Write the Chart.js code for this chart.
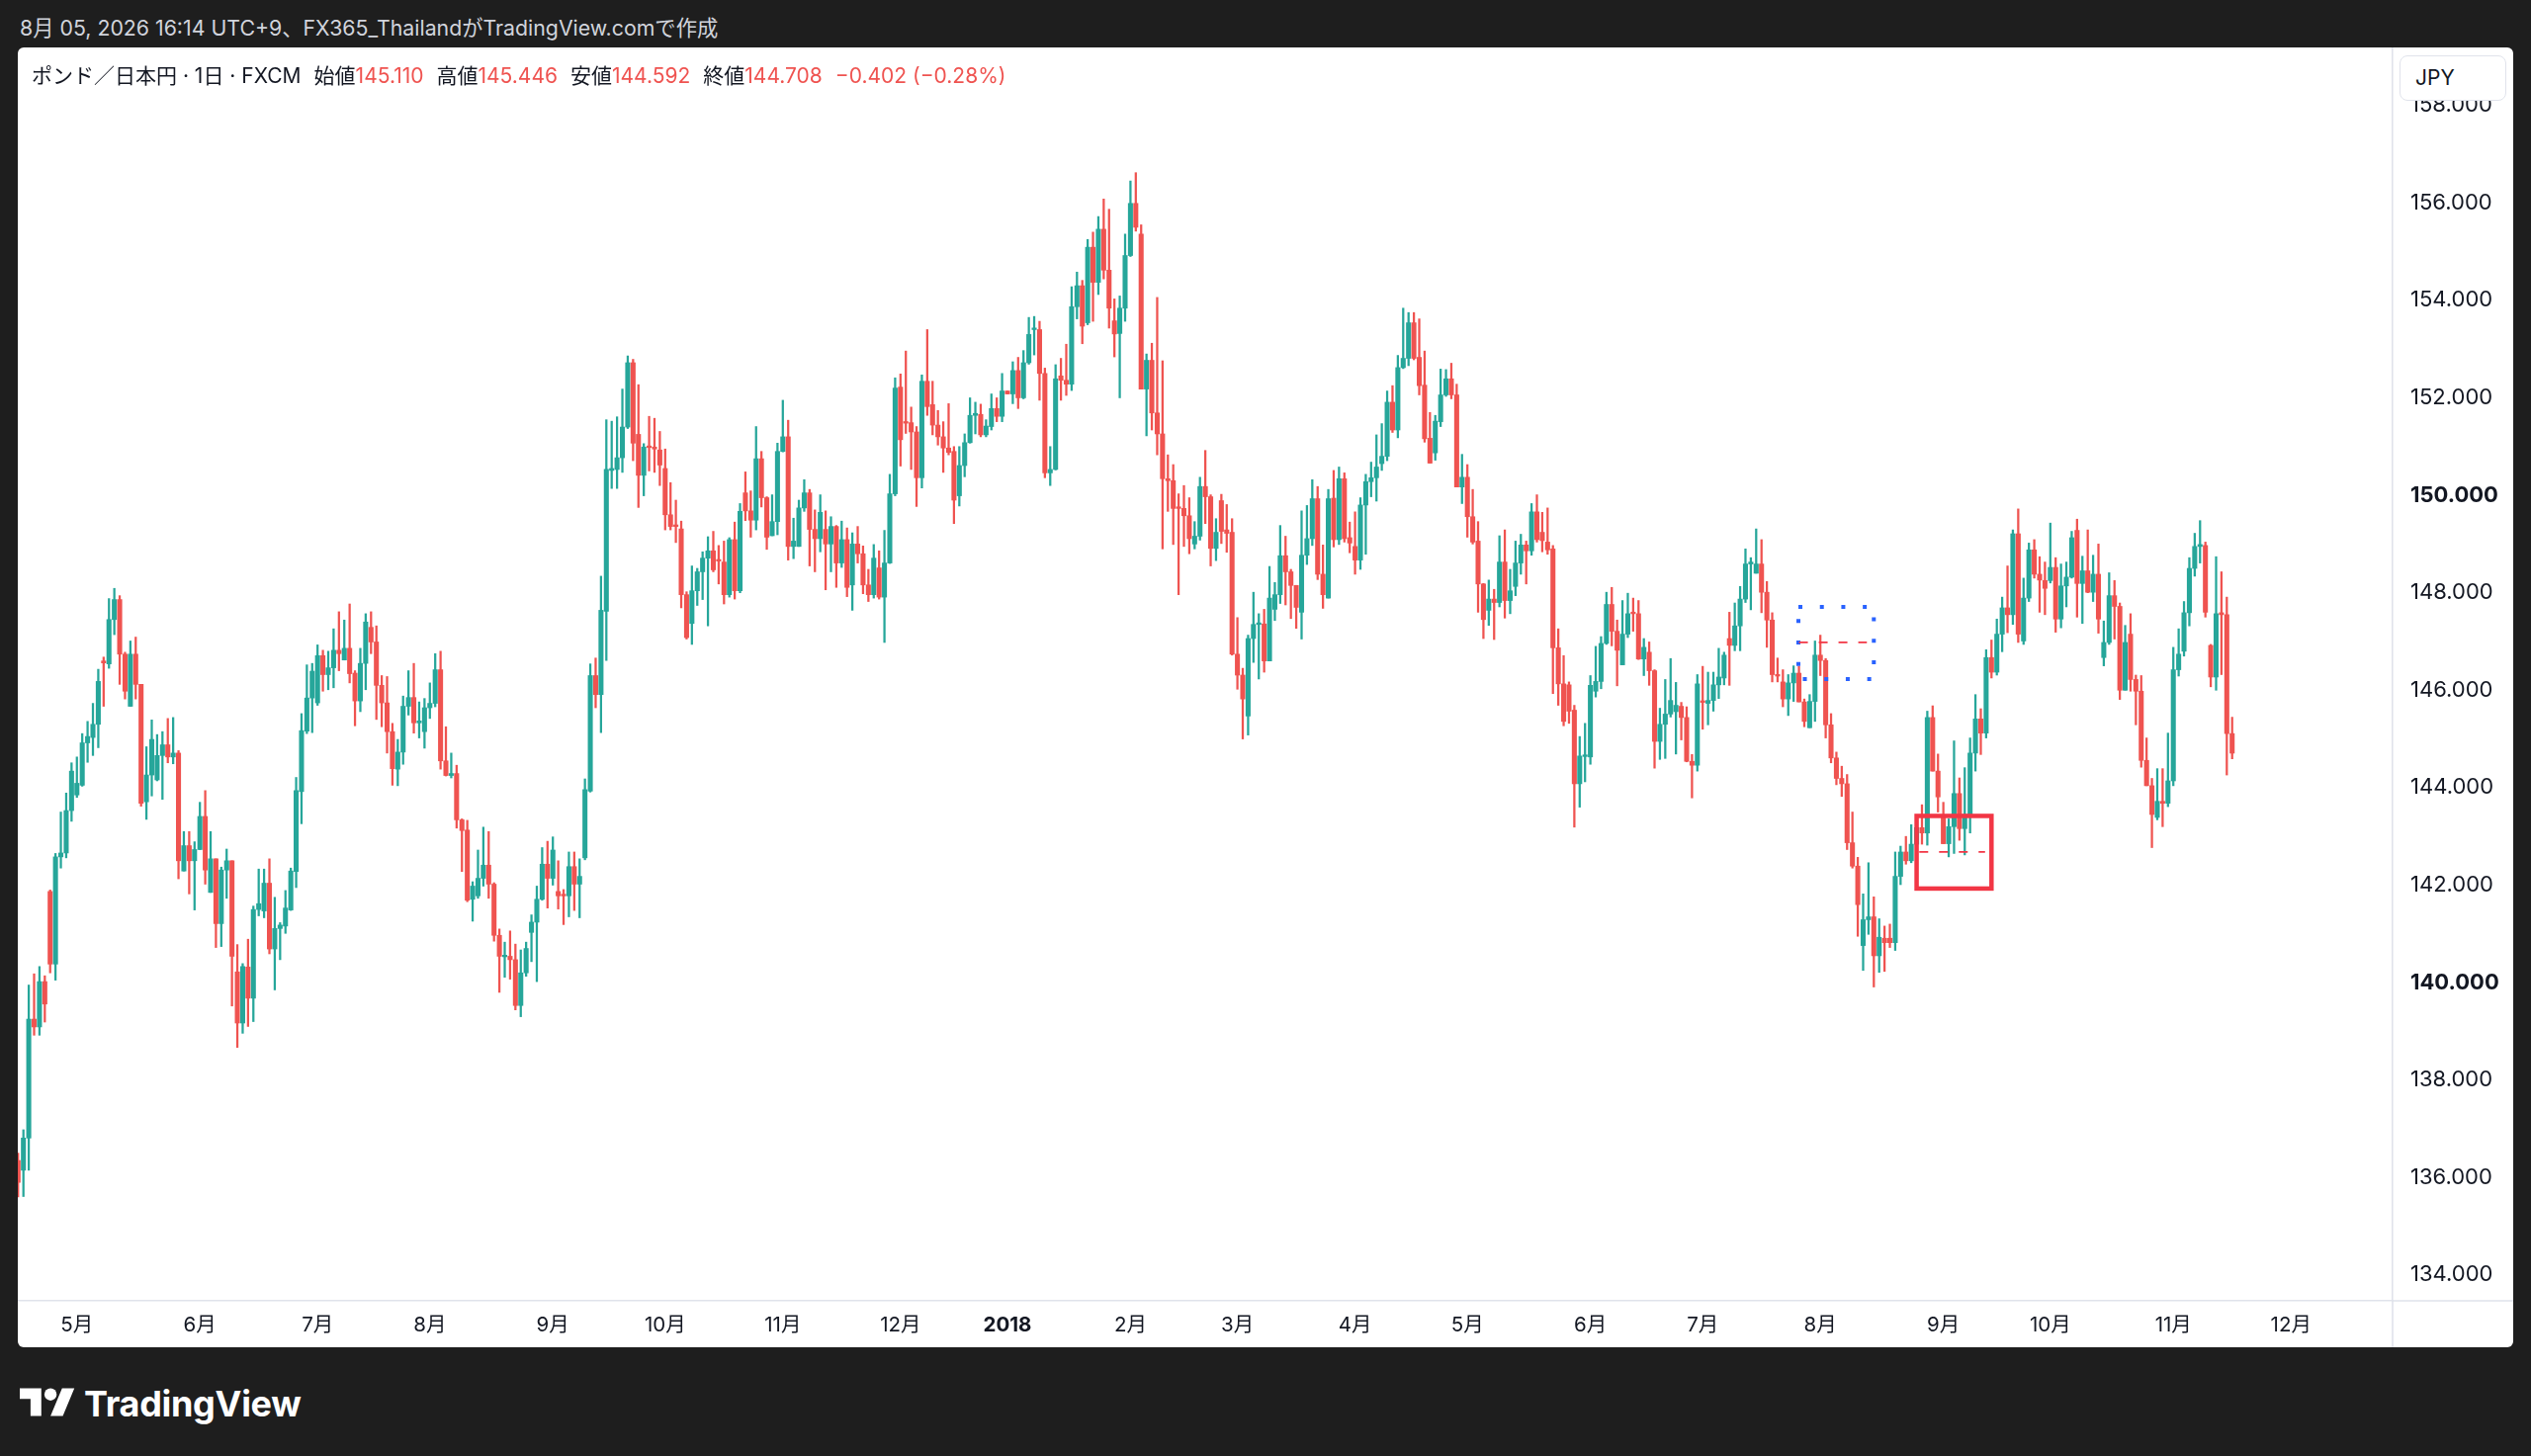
<!DOCTYPE html>
<html lang="ja">
<head>
<meta charset="utf-8">
<title>ポンド／日本円 · 1日 · FXCM</title>
<script src="https://cdn.jsdelivr.net/npm/chart.js@4.4.1/dist/chart.umd.min.js"></script>
<style>
  html, body { margin: 0; padding: 0; }
  body {
    width: 2560px; height: 1473px; overflow: hidden; position: relative;
    background: #1e1e1e;
    font-family: Inter, "Noto Sans CJK JP", sans-serif;
  }
  #top {
    position: absolute; left: 20px; top: 14px;
    font-size: 21.3px; line-height: 28px; color: #d1d4dc; white-space: nowrap;
  }
  #panel {
    position: absolute; left: 18px; top: 48px; width: 2524px; height: 1315px;
    background: #fff; border-radius: 6px; overflow: hidden;
  }
  #chart { position: absolute; left: 0; top: 0; }
  #legend {
    position: absolute; left: 14px; top: 17px;
    font-size: 21px; line-height: 24px; color: #131722; white-space: nowrap;
  }
  #legend span { margin-right: 13px; }
  #legend i { font-style: normal; }
  #legend .v, #legend .red { color: #ef5350; }
  #unit {
    position: absolute; left: 2409px; top: 8px; width: 108px; height: 46px;
    box-sizing: border-box; border: 1.5px solid #e0e3eb; border-radius: 8px;
    background: #fff; color: #131722; font-size: 21px; line-height: 43px; padding-left: 15px;
  }
  #brand {
    position: absolute; left: 20px; top: 1398px; height: 44px;
    display: flex; align-items: center; color: #fff;
  }
  #brand svg { width: 56px; height: 44px; margin-right: 9px; }
  #brand span { font-size: 36px; font-weight: 700; letter-spacing: -0.3px; }
</style>
</head>
<body>
<div id="top">8月 05, 2026 16:14 UTC+9、FX365_ThailandがTradingView.comで作成</div>
<div id="panel">
  <canvas id="chart" width="2524" height="1315"></canvas>
  <div id="legend"></div>
  <div id="unit">JPY</div>
</div>
<div id="brand">
  <svg viewBox="0 0 36 28" fill="#ffffff"><path d="M14 22H7V11H0V4h14v18zM28 22h-8l7.5-18h8L28 22z"/><circle cx="20" cy="8" r="4"/></svg>
  <span>TradingView</span>
</div>

<script>
// GBP/JPY daily candles, 2017-04-14 .. 2018-11-16 (FXCM)
const opens = [
  136.35,136.15,136.81,139.25,139.09,140.02,141.87,140.38,142.58,142.66,
  143.53,143.85,144.05,144.92,145.03,145.30,146.60,146.54,147.45,147.86,
  146.74,145.67,146.74,146.12,143.71,144.26,144.16,144.66,144.88,144.63,
  144.71,142.29,142.81,142.50,142.73,143.41,141.85,142.54,141.21,142.31,
  142.50,140.22,139.17,140.32,139.68,141.50,141.47,142.04,140.69,141.11,
  141.16,141.49,142.28,143.92,145.16,145.84,145.74,146.71,146.32,146.46,
  146.82,146.62,146.86,146.35,145.78,146.55,147.29,146.99,146.10,145.74,
  145.15,144.38,144.73,145.67,145.85,145.33,145.15,145.64,145.73,146.42,
  144.55,144.25,144.29,143.34,143.13,141.71,141.78,142.14,142.41,142.02,
  140.97,140.53,140.54,140.47,139.53,140.20,141.03,141.24,141.71,142.43,
  142.14,141.87,141.81,141.78,142.38,142.02,142.56,143.93,146.30,145.91,
  147.62,150.51,150.53,150.77,151.40,152.72,151.25,150.41,151.01,150.99,
  150.93,150.55,149.60,149.38,149.31,147.96,147.37,148.04,148.43,148.71,
  148.86,148.67,148.63,147.96,149.09,148.04,150.05,149.68,149.49,150.75,
  149.95,149.17,149.46,150.90,151.20,148.95,148.95,149.74,150.05,149.30,
  149.11,149.30,149.00,149.36,148.61,149.09,148.16,149.00,148.80,148.16,
  147.96,148.51,147.91,148.61,150.03,152.22,151.50,151.49,151.30,150.36,
  152.34,151.86,151.44,151.20,150.97,150.90,149.99,150.61,151.08,151.64,
  151.66,151.24,151.41,151.78,151.62,152.14,152.08,152.56,152.00,152.72,
  153.40,153.40,152.50,150.46,150.53,152.45,152.36,152.28,153.87,154.30,
  153.54,155.09,154.37,155.46,154.62,153.58,153.32,153.84,154.92,155.99,
  155.36,152.18,152.77,151.69,151.26,150.34,150.30,149.75,149.73,149.58,
  149.00,149.16,150.18,149.97,148.91,149.89,149.29,149.24,146.74,146.31,
  145.47,147.06,147.35,147.36,146.60,147.66,147.96,148.76,148.43,148.15,
  147.60,148.77,149.11,149.93,148.38,147.89,149.94,149.09,150.34,149.13,
  148.95,148.67,149.80,150.28,150.36,150.65,150.80,151.91,151.34,152.62,
  152.81,153.54,152.83,152.26,151.17,150.87,151.51,152.06,152.39,152.06,
  150.17,150.37,149.56,149.06,148.18,147.64,147.87,147.80,148.63,147.84,
  148.13,148.61,148.98,148.86,149.66,149.24,149.04,148.90,146.87,146.13,
  146.11,145.59,144.08,144.64,144.63,145.98,146.18,146.96,147.76,147.21,
  146.52,147.15,147.59,147.57,146.64,146.78,146.40,144.95,145.30,145.51,
  145.56,145.67,145.44,144.54,144.46,145.77,145.73,145.79,146.11,146.25,
  147.06,146.92,147.32,147.87,148.59,148.40,148.59,148.01,147.44,146.32,
  146.17,145.82,146.15,146.35,145.76,145.23,145.77,146.72,146.61,145.29,
  144.61,144.19,144.08,142.87,142.39,140.76,141.29,141.35,140.55,140.91,
  140.91,140.82,142.18,142.68,142.50,142.84,143.18,143.07,145.44,144.34,
  143.43,142.85,143.20,143.88,143.16,143.45,144.71,145.41,145.12,146.67,
  146.37,147.15,147.69,147.55,149.21,147.01,147.89,148.88,148.38,148.25,
  148.25,148.52,147.46,148.14,148.32,149.28,148.19,148.45,148.01,148.38,
  146.67,146.98,147.94,147.72,146.00,147.15,146.22,145.98,144.56,144.04,
  143.39,143.72,143.68,144.14,146.42,146.80,147.59,148.50,148.95,148.97,
  146.92,146.27,147.59,147.55,145.110
];
const highs = [
  136.50,136.98,139.95,140.18,140.33,140.14,141.90,142.65,143.50,143.89,
  144.51,144.63,145.11,145.36,145.73,146.43,146.68,147.88,148.09,147.94,
  146.78,147.01,147.09,146.12,144.84,145.39,145.09,145.15,145.42,145.44,
  144.76,143.10,143.10,142.89,143.70,143.94,143.10,142.54,142.37,142.74,
  142.50,140.78,140.39,140.89,141.57,142.33,142.33,142.54,141.75,141.23,
  141.89,142.35,144.21,145.52,146.52,146.55,146.93,146.82,146.80,147.26,
  147.61,147.44,147.77,146.40,146.86,147.57,147.61,147.32,146.30,146.28,
  145.32,144.99,145.88,146.40,146.55,145.76,145.83,146.15,146.75,146.80,
  145.25,144.71,144.46,143.36,143.33,142.07,142.72,143.19,143.10,142.05,
  141.10,140.83,141.06,140.79,140.67,140.83,141.39,141.98,142.77,142.90,
  142.99,142.50,141.91,142.68,142.68,142.54,144.18,146.54,146.66,148.34,
  151.55,151.52,151.61,152.18,152.86,152.79,152.27,151.06,151.62,151.58,
  151.31,150.95,150.26,149.90,149.47,148.02,148.55,148.50,148.84,149.15,
  149.26,148.97,149.06,149.13,149.45,149.83,150.48,150.09,151.41,150.90,
  149.97,150.01,151.07,151.95,151.54,149.53,149.90,150.32,150.12,149.70,
  150.01,149.68,149.56,149.38,149.47,149.33,149.23,149.36,148.96,148.48,
  148.99,148.86,149.28,150.43,152.41,152.49,152.96,151.81,151.41,152.47,
  153.40,152.34,151.74,151.51,151.88,151.00,151.00,151.26,152.00,151.91,
  151.87,151.55,152.08,152.00,152.50,152.14,152.74,152.83,152.97,153.65,
  153.67,153.57,152.61,151.00,152.68,152.81,153.10,154.28,154.58,154.41,
  155.25,155.40,155.72,156.08,155.87,154.03,154.09,155.36,156.45,156.62,
  155.55,152.90,153.12,154.06,152.76,150.83,150.63,150.03,150.20,149.95,
  149.46,150.37,150.92,150.01,149.52,150.02,149.81,149.52,147.49,146.45,
  147.13,148.01,147.57,147.66,148.54,148.21,149.38,149.16,148.48,148.15,
  149.68,149.79,150.32,150.18,148.98,150.12,150.51,150.58,150.46,149.45,
  149.66,149.95,150.43,150.68,151.24,151.47,152.14,152.25,152.87,153.84,
  153.75,153.75,153.62,152.96,151.70,151.64,152.59,152.58,152.71,152.28,
  150.84,150.63,150.12,149.46,148.19,148.26,148.07,149.17,149.29,148.48,
  149.06,149.20,149.06,149.83,150.01,149.65,149.74,148.97,147.26,146.71,
  146.17,145.69,145.05,145.32,146.30,146.90,147.10,148.01,148.11,147.44,
  147.84,147.99,147.89,147.84,147.06,146.99,146.42,145.63,146.22,146.65,
  146.16,145.75,145.66,144.68,146.32,146.49,146.37,146.37,146.86,146.78,
  147.60,147.79,148.13,148.90,148.72,149.31,149.09,148.23,147.59,146.66,
  146.42,146.32,146.50,146.49,145.82,145.91,147.01,147.13,146.65,145.52,
  144.73,144.44,144.27,143.50,142.57,141.82,142.46,141.76,141.31,141.16,
  141.20,142.68,142.80,143.00,143.24,143.26,143.65,145.57,145.68,144.69,
  143.70,143.36,144.96,144.20,144.41,145.02,145.91,145.62,146.83,147.03,
  147.46,147.91,148.55,149.29,149.72,148.30,149.02,149.09,148.74,148.63,
  149.43,148.72,148.59,148.63,149.26,149.51,148.75,149.29,148.77,149.00,
  147.42,148.41,148.25,147.79,147.33,147.57,146.31,146.30,145.02,144.19,
  144.39,144.39,145.12,146.88,147.26,147.82,148.72,149.22,149.48,149.04,
  146.94,148.74,148.43,147.91,145.446
];
const lows = [
  135.60,135.61,136.15,138.92,138.92,139.19,140.20,140.05,142.35,142.56,
  143.31,143.80,144.03,144.52,144.66,144.82,145.67,146.45,147.14,146.12,
  145.82,145.67,145.82,143.62,143.35,143.83,144.14,143.76,144.51,144.49,
  142.13,142.29,141.82,141.49,142.73,142.02,141.85,140.72,140.74,141.73,
  139.52,138.67,138.96,139.10,139.20,141.37,141.33,140.59,139.85,140.47,
  141.01,141.48,141.95,143.26,145.11,145.13,145.69,145.98,146.01,146.05,
  146.40,146.62,146.15,145.27,145.56,146.01,146.75,145.40,145.25,144.71,
  144.05,144.04,144.48,145.49,145.12,145.02,144.81,145.42,145.66,144.38,
  144.24,144.20,143.17,142.28,141.66,141.26,141.73,141.98,141.73,140.85,
  139.80,140.11,140.07,139.44,139.30,140.13,140.43,140.02,141.69,141.53,
  142.00,141.51,141.19,141.35,141.48,141.33,142.52,143.91,145.64,145.13,
  146.61,150.14,150.14,150.47,151.37,150.71,149.75,149.99,150.50,150.47,
  150.20,149.29,149.29,149.03,147.69,147.05,146.94,147.74,147.86,147.32,
  148.43,148.18,147.77,147.91,147.87,148.00,149.48,149.14,149.29,149.76,
  148.89,149.17,149.19,150.89,148.67,148.70,148.95,149.67,148.55,148.43,
  148.84,148.06,148.43,148.11,148.52,147.92,147.64,148.61,147.98,147.82,
  147.89,147.87,146.98,148.60,149.99,150.60,151.27,150.53,149.77,150.15,
  151.64,151.24,151.03,150.47,150.83,149.42,149.78,150.38,151.07,151.26,
  151.20,151.20,151.34,151.51,151.51,152.08,151.88,151.78,151.98,152.69,
  152.88,151.95,150.36,150.20,150.52,151.95,152.05,152.15,153.62,153.11,
  153.50,153.57,154.12,154.44,153.43,152.84,152.00,153.57,154.90,155.42,
  152.18,151.22,151.34,150.83,148.90,149.67,148.99,147.96,148.95,148.80,
  148.90,149.08,149.42,148.55,148.66,149.01,148.83,146.72,146.02,145.00,
  145.08,146.57,146.23,146.37,146.60,147.43,147.78,147.75,147.47,147.27,
  147.05,148.58,148.97,148.27,147.68,147.89,148.94,148.99,149.04,148.82,
  148.38,148.48,148.79,149.97,149.88,150.51,150.71,151.29,151.18,152.60,
  152.66,152.78,152.06,151.09,150.66,150.72,151.41,152.03,151.98,150.17,
  149.83,149.14,149.00,147.60,147.06,147.33,147.04,147.71,147.48,147.57,
  147.94,148.38,148.18,148.77,149.04,148.84,148.79,145.93,145.69,145.27,
  145.32,143.19,143.60,144.12,144.48,145.86,146.03,146.94,146.91,146.09,
  146.52,147.08,147.21,146.63,146.30,146.10,144.40,144.58,144.60,145.45,
  144.69,144.98,144.53,143.79,144.34,145.20,145.29,145.57,145.83,146.11,
  146.10,146.81,146.81,147.80,147.65,148.40,147.59,146.88,146.17,146.17,
  145.66,145.48,145.77,145.76,145.25,145.23,145.36,146.30,145.02,144.51,
  144.06,143.82,142.73,142.35,140.95,140.25,140.99,139.91,140.21,140.23,
  140.72,140.66,142.01,142.43,142.46,142.52,142.84,142.82,144.34,143.50,
  142.85,142.58,142.65,142.92,142.62,143.07,144.34,144.68,145.02,146.25,
  146.31,146.79,147.18,147.35,146.98,146.94,147.82,148.30,147.60,147.55,
  148.20,147.19,147.28,147.71,148.30,147.50,147.37,148.00,147.82,147.17,
  146.50,146.94,147.05,145.81,146.00,145.98,145.29,144.42,144.04,142.77,
  143.34,143.20,143.61,144.04,146.29,146.70,147.32,148.34,148.61,147.50,
  146.07,146.00,146.32,144.26,144.592
];
const closes = [
  135.90,136.81,139.25,139.09,140.02,139.56,140.38,142.58,142.66,143.53,
  144.34,144.09,144.92,145.05,145.30,146.18,146.56,147.45,147.86,146.74,
  145.98,146.74,146.12,143.68,144.26,144.99,144.66,144.88,144.63,144.71,
  142.50,142.81,142.50,142.73,143.41,142.31,142.54,141.21,142.31,142.50,
  140.54,139.17,140.33,139.68,141.50,141.62,142.04,140.69,141.11,141.18,
  141.53,142.29,143.94,145.17,145.84,146.39,146.71,146.32,146.46,146.82,
  146.75,146.86,146.34,145.78,146.55,147.40,146.99,146.10,145.74,145.15,
  144.39,144.73,145.67,145.85,145.33,145.37,145.64,145.73,146.42,144.55,
  144.25,144.29,143.34,143.12,141.69,141.98,142.14,142.41,142.02,140.97,
  140.54,140.56,140.47,139.53,140.20,140.70,141.24,141.71,142.43,142.14,
  142.72,141.78,141.78,142.38,142.02,142.18,143.96,146.30,145.91,147.64,
  150.53,150.55,150.77,151.40,152.72,151.07,150.41,150.99,150.98,150.95,
  150.62,149.60,149.36,149.36,147.96,147.08,148.04,148.43,148.71,148.86,
  148.47,148.65,147.96,149.09,148.04,149.67,149.68,149.49,150.75,149.95,
  149.14,149.46,150.90,151.20,148.95,149.06,149.74,150.05,149.30,149.11,
  149.65,149.00,149.36,148.61,149.09,148.11,149.00,148.80,148.16,147.96,
  148.71,147.91,148.61,150.03,152.20,151.14,151.48,151.30,150.36,152.34,
  151.82,151.44,151.20,150.97,150.88,149.90,150.61,151.08,151.64,151.68,
  151.24,151.42,151.78,151.62,152.14,152.08,152.56,152.00,152.72,153.30,
  153.42,152.50,150.46,150.53,152.39,152.36,152.28,153.87,154.30,153.47,
  155.09,154.37,155.46,154.62,153.84,153.31,153.84,154.92,155.99,155.50,
  152.18,152.77,151.69,151.26,150.34,150.30,149.73,149.73,149.58,149.11,
  149.16,150.18,149.97,148.91,149.24,149.26,149.22,146.74,146.31,145.82,
  147.06,147.35,147.37,146.60,147.89,147.96,148.76,148.43,148.15,147.70,
  148.77,149.11,149.93,148.38,147.96,149.93,149.09,150.34,149.11,149.02,
  148.67,149.80,150.28,150.36,150.58,150.80,151.91,151.34,152.62,152.81,
  153.54,152.81,152.25,151.16,150.66,151.52,152.06,152.39,152.06,150.17,
  150.37,149.56,149.04,148.18,147.45,147.87,147.80,148.63,147.84,148.04,
  148.61,148.98,148.86,149.66,149.09,149.07,148.88,146.87,146.13,145.36,
  145.57,144.08,144.65,144.66,146.10,146.18,146.96,147.76,147.21,146.82,
  147.15,147.57,147.57,146.64,146.88,146.40,144.95,145.30,145.51,145.79,
  145.69,145.44,144.54,144.46,146.13,145.75,145.79,146.11,146.27,146.72,
  146.92,147.32,147.87,148.59,148.63,148.59,148.01,147.44,146.32,146.29,
  145.82,146.15,146.35,145.76,145.36,145.77,146.72,146.61,145.29,144.61,
  144.19,144.08,142.87,142.39,141.60,141.29,141.35,140.55,140.93,140.82,
  140.82,142.18,142.68,142.50,142.84,143.18,143.07,145.44,144.34,143.81,
  142.85,143.20,143.88,143.16,143.45,144.71,145.41,145.12,146.67,146.37,
  147.15,147.69,147.55,149.21,147.15,147.89,148.88,148.38,148.26,148.09,
  148.52,147.46,148.14,148.32,149.13,148.19,148.45,148.01,148.38,147.46,
  146.98,147.94,147.72,146.00,146.98,146.22,145.98,144.56,144.04,143.45,
  143.72,143.68,144.14,146.42,146.74,147.59,148.50,148.95,148.99,147.60,
  146.27,147.57,147.55,145.11,144.708
];

// trading calendar: weekdays from the first bar, minus the days FXCM skipped
const firstDay = '2017-04-14';
const holidays = ['2017-12-25'];
const totalSlots = 446;           // bars + empty space on the right

const yTicks = [134, 136, 138, 140, 142, 144, 146, 148, 150, 152, 154, 156, 158];
const boldYTicks = [140, 150];

// drawings on the chart, in bar index / price units
const blueBox = { x0: 332.9, x1: 347.0, y0: 146.23, y1: 147.71, mid: 146.98, midX1: 345.7 };
const redBox = { x0: 355.0, x1: 369.0, y0: 141.93, y1: 143.42, mid: 142.68, midX0: 355.5, midX1: 367.8 };

const UP = '#26a69a';
const DOWN = '#ef5350';
const LINE = '#e0e3eb';
const TEXT = '#131722';
const FONT = 'Inter, "Noto Sans CJK JP", sans-serif';

// build the date of every slot
const dates = [];
{
  const d = new Date(firstDay + 'T00:00:00');
  while (dates.length < totalSlots) {
    const key = d.getFullYear() + '-' + String(d.getMonth() + 1).padStart(2, '0') + '-' + String(d.getDate()).padStart(2, '0');
    const wd = d.getDay();
    if (wd !== 0 && wd !== 6 && !holidays.includes(key)) dates.push(new Date(d));
    d.setDate(d.getDate() + 1);
  }
}

const monthStarts = [];
const tickText = {};
dates.forEach((d, i) => {
  if (i === 0 || d.getMonth() === dates[i - 1].getMonth()) return;
  monthStarts.push(i);
  tickText[i] = d.getMonth() === 0 ? String(d.getFullYear()) : (d.getMonth() + 1) + '月';
});

// legend
const last = closes.length - 1;
const chg = closes[last] - closes[last - 1];
const pct = chg / closes[last - 1] * 100;
const signed = (v, digits) => (v < 0 ? '−' : '+') + Math.abs(v).toFixed(digits);
document.getElementById('legend').innerHTML =
  '<span>ポンド／日本円 · 1日 · FXCM</span>' +
  '<span>始値<i class="v">' + opens[last].toFixed(3) + '</i></span>' +
  '<span>高値<i class="v">' + highs[last].toFixed(3) + '</i></span>' +
  '<span>安値<i class="v">' + lows[last].toFixed(3) + '</i></span>' +
  '<span>終値<i class="v">' + closes[last].toFixed(3) + '</i></span>' +
  '<span class="red">' + signed(chg, 3) + ' (' + signed(pct, 2) + '%)</span>';

const idx = closes.map((_, i) => i);
const candleColor = c => closes[c.dataIndex] >= opens[c.dataIndex] ? UP : DOWN;

const drawings = {
  id: 'drawings',
  afterDatasetsDraw(chart) {
    const { ctx, chartArea, scales: { x, y } } = chart;
    const px = v => x.getPixelForValue(v);
    const py = v => y.getPixelForValue(v);
    ctx.save();
    ctx.beginPath();
    ctx.rect(chartArea.left, chartArea.top, chartArea.right - chartArea.left, chartArea.bottom - chartArea.top);
    ctx.clip();

    // blue dotted zone
    ctx.strokeStyle = '#2962ff';
    ctx.lineWidth = 4;
    ctx.setLineDash([4, 17.7]);
    ctx.strokeRect(px(blueBox.x0), py(blueBox.y1), px(blueBox.x1) - px(blueBox.x0), py(blueBox.y0) - py(blueBox.y1));

    // red solid zone
    ctx.setLineDash([]);
    ctx.strokeStyle = '#f23645';
    ctx.lineWidth = 4.5;
    ctx.strokeRect(px(redBox.x0), py(redBox.y1), px(redBox.x1) - px(redBox.x0), py(redBox.y0) - py(redBox.y1));

    // dashed middle lines
    ctx.lineWidth = 1.8;
    ctx.setLineDash([9, 11]);
    ctx.beginPath();
    ctx.moveTo(px(blueBox.x0 + 0.1), py(blueBox.mid));
    ctx.lineTo(px(blueBox.midX1), py(blueBox.mid));
    ctx.moveTo(px(redBox.midX0), py(redBox.mid));
    ctx.lineTo(px(redBox.midX1), py(redBox.mid));
    ctx.stroke();
    ctx.restore();
  },
  afterDraw(chart) {
    // axis separators continue into the bottom right corner
    const { ctx, chartArea } = chart;
    ctx.save();
    ctx.strokeStyle = LINE;
    ctx.lineWidth = 1.6;
    ctx.beginPath();
    ctx.moveTo(chartArea.right, chartArea.bottom);
    ctx.lineTo(chartArea.right, chart.height);
    ctx.moveTo(chartArea.right, chartArea.bottom);
    ctx.lineTo(chart.width, chartArea.bottom);
    ctx.stroke();
    ctx.restore();
  }
};

new Chart(document.getElementById('chart'), {
  type: 'bar',
  data: {
    datasets: [
      {
        label: 'body',
        data: idx.map(i => ({ x: i, y: [opens[i], closes[i]] })),
        backgroundColor: candleColor,
        barThickness: 4.4,
        minBarLength: 1.6,
        grouped: false
      },
      {
        label: 'wick',
        data: idx.map(i => ({ x: i, y: [lows[i], highs[i]] })),
        backgroundColor: candleColor,
        barThickness: 1.6,
        grouped: false
      }
    ]
  },
  options: {
    responsive: false,
    maintainAspectRatio: false,
    animation: false,
    devicePixelRatio: 1,
    layout: { padding: 0 },
    plugins: {
      legend: { display: false },
      tooltip: { enabled: false }
    },
    scales: {
      x: {
        type: 'linear',
        offset: false,
        min: -0.05,
        max: 444.0,
        grid: { display: false, drawTicks: false },
        border: { display: true, color: LINE, width: 1.6 },
        afterBuildTicks: s => { s.ticks = monthStarts.map(v => ({ value: v })); },
        afterFit: s => { s.height = 47; s.paddingLeft = 0; s.paddingRight = 0; },
        ticks: {
          autoSkip: false,
          maxRotation: 0,
          padding: 13,
          color: TEXT,
          font: c => ({ family: FONT, size: 20.5, weight: c.tick && dates[c.tick.value] && dates[c.tick.value].getMonth() === 0 ? 'bold' : 'normal' }),
          callback: v => tickText[v] || ''
        }
      },
      y: {
        position: 'right',
        min: 133.47,
        max: 159.19,
        grid: { display: false, drawTicks: false },
        border: { display: true, color: LINE, width: 1.6 },
        afterBuildTicks: s => { s.ticks = yTicks.map(v => ({ value: v })); },
        afterFit: s => { s.width = 122; s.paddingTop = 0; s.paddingBottom = 0; },
        ticks: {
          padding: 18,
          color: TEXT,
          font: c => ({ family: FONT, size: 22, weight: c.tick && boldYTicks.includes(c.tick.value) ? 'bold' : 'normal' }),
          callback: v => v.toFixed(3)
        }
      }
    }
  },
  plugins: [drawings]
});
</script>
</body>
</html>
